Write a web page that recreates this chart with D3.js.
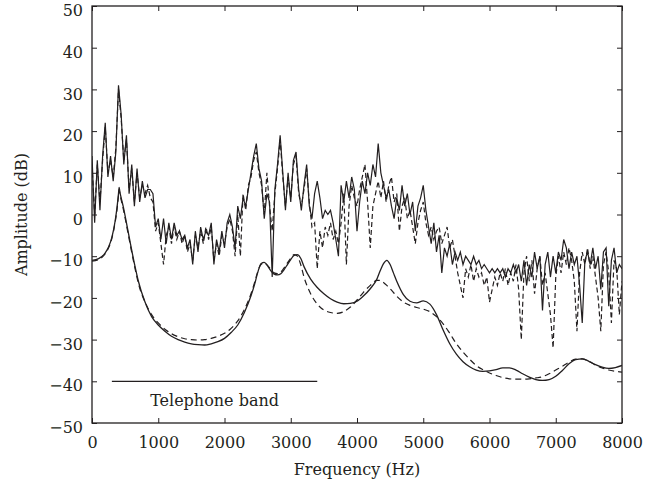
<!DOCTYPE html>
<html>
<head>
<meta charset="utf-8">
<script src="https://cdn.jsdelivr.net/npm/d3@7/dist/d3.min.js"></script>
<style>
  html, body { margin: 0; padding: 0; background: #fff; }
  svg text { font-family: "DejaVu Serif", "Liberation Serif", serif; fill: #231f20; }
</style>
</head>
<body>
<svg id="chart" width="659" height="490"></svg>
<script>
// ---- DATA ----
const FREQ_STEP = 40; // Hz between spectrum samples (0 .. 8000 Hz)
const spectrumSolid = [
  14, -2, 13, 1, 14, 22, 9, 14, 8, 15,
  31, 24, 12, 19, 5, 12, 2, 11, 3, 8,
  4, 6, 6, 5, -3, -1, -6, -1, -7, -2,
  -6, -2, -5, -4, -6, -5, -8, -6, -12, -4,
  -9, -3, -6, -4, -5, -2, -12, -6, -9, -4,
  -8, -2, 0, -3, -8, 2, -1, 4, 2, 6,
  10, 14, 17, 11, 8, -1, 5, 3, -15, 6,
  12, 19, 10, 1, 10, 3, 13, 15, 6, 1,
  7, 12, 2, -1, 5, 8, 4, -1, 1, 0,
  1, -2, -6, -10, 7, 3, 8, 4, 9, 6,
  -4, 3, 8, 5, 10, 7, 12, 9, 17, 10,
  7, 4, 6, 2, -1, 4, 1, 7, 2, 5,
  0, 3, -4, 2, 4, 7, 1, -3, -7, -2,
  -9, -5, -14, -8, -10, -7, -12, -9, -11, -9,
  -12, -10, -11, -12, -10, -12, -11, -13, -12, -13,
  -14, -13, -14, -13, -14, -13, -15, -13, -14, -12,
  -14, -12, -16, -11, -17, -12, -15, -9, -13, -10,
  -23, -12, -9, -15, -10, -14, -9, -11, -6, -8,
  -13, -9, -12, -10, -17, -26, -11, -9, -12, -8,
  -13, -10, -18, -9, -8, -22, -11, -8, -14, -12,
  -13
];
const spectrumDashed = [
  12, 0, 12, 3, 13, 21, 10, 13, 9, 16,
  30, 23, 13, 18, 6, 11, 3, 10, 4, 7,
  5, 7, 4, 3, -4, -2, -7, -12, -5, -3,
  -7, -3, -6, -4, -7, -5, -9, -7, -11, -5,
  -8, -4, -7, -3, -6, -3, -11, -7, -10, -5,
  -7, -3, -1, -4, -10, 0, -10, 5, 1, 7,
  9, 13, 15, 10, 7, 0, 10, 2, -4, 5,
  11, 18, 9, 2, 9, 4, 12, 14, 5, 2,
  6, 11, 3, -3, -2, -13, -4, -8, -3, -5,
  -2, -6, -4, -7, -2, 5, -12, 2, 7, 4,
  2, 6, 9, 12, 3, -8, 2, 5, 8, 4,
  8, 3, 7, 9, 3, 5, -4, 2, 4, -1,
  1, -3, -7, -2, 1, 3, -2, -5, -3, -6,
  -4, -3, -7, -5, -3, -8, -6, -10, -14, -17,
  -20, -13, -15, -12, -16, -13, -15, -14, -17, -15,
  -21, -18, -15, -17, -14, -16, -13, -17, -14, -16,
  -12, -18, -30, -14, -10, -16, -11, -19, -13, -10,
  -17, -14, -19, -24, -32, -15, -10, -14, -9, -12,
  -8, -11, -16, -28, -14, -9, -12, -8, -13, -10,
  -15, -20, -28, -12, -9, -14, -26, -11, -13, -24,
  -16
];
const envelopeFreq = [
  0, 100, 200, 250, 300, 350, 380, 400, 410, 420,
  440, 470, 520, 580, 650, 700, 800, 900, 1000, 1100,
  1200, 1300, 1400, 1500, 1600, 1700, 1800, 1900, 2000, 2100,
  2200, 2300, 2400, 2450, 2500, 2550, 2600, 2650, 2700, 2750,
  2800, 2850, 2900, 2950, 3000, 3050, 3100, 3150, 3200, 3300,
  3400, 3500, 3600, 3700, 3800, 3900, 4000, 4100, 4200, 4300,
  4350, 4400, 4450, 4500, 4550, 4600, 4700, 4800, 4900, 5000,
  5100, 5200, 5300, 5400, 5500, 5600, 5700, 5800, 5900, 6000,
  6100, 6200, 6300, 6400, 6500, 6600, 6700, 6800, 6900, 7000,
  7100, 7200, 7300, 7400, 7500, 7600, 7700, 7800, 7900, 8000
];
const envelopeSolid = [
  -11, -10.6, -9.2, -7.8, -5.5, -1.5, 2, 5, 6.5, 5.5,
  4, 2, -2, -7, -12.5, -16, -21, -24.5, -26.5, -28,
  -29.2, -30, -30.6, -31, -31.2, -31.3, -31, -30.5, -29.7, -28.3,
  -26.5, -23.5, -19.5, -17, -14, -11.8, -11.5, -12.3, -13.5, -14.3,
  -14.5, -14.2, -13.2, -12, -10.8, -9.8, -9.6, -10.5, -12.5, -15.5,
  -17.5, -19, -20.2, -21, -21.4, -21.3, -20.8, -19.5, -17.8, -15.5,
  -13.5, -11.8, -11, -12, -14, -16, -19.2, -20.8, -21.2, -20.7,
  -21.5, -24, -27.7, -31, -33.5, -35.3, -36.5, -37.3, -37.6, -37.5,
  -37.2, -36.8, -36.8, -37.3, -38.2, -39, -39.6, -39.8, -39.6, -38.8,
  -37.4, -35.8, -34.8, -34.6, -35.2, -36, -36.6, -36.9, -36.7, -36.2
];
const envelopeDashed = [
  -11.2, -10.8, -9.4, -8, -5.7, -1.8, 1.5, 4.5, 6, 5,
  3.5, 1.5, -2.5, -7.5, -13, -16.5, -21, -24, -26, -27.5,
  -28.6, -29.3, -29.8, -30, -30.1, -30, -29.7, -29.2, -28.5, -27.3,
  -25.5, -22.8, -19, -16.5, -13.8, -12, -11.6, -12.2, -13.2, -14,
  -14.2, -13.8, -12.8, -11.6, -10.5, -9.6, -10, -12, -15, -19,
  -21.5, -22.9, -23.5, -23.7, -23.3, -22.2, -20.5, -18.6, -17, -15.8,
  -15.8, -16.3, -17, -17.8, -18.7, -19.6, -21, -21.8, -22.3, -22.7,
  -23.3, -24.5, -26.2, -28.5, -31, -33, -34.7, -36.2, -37.2, -38,
  -38.6, -39.1, -39.4, -39.5, -39.5, -39.4, -39.2, -38.9, -38.2, -37.3,
  -36.4, -35.4, -34.7, -34.6, -35.2, -36.1, -36.8, -37.3, -37.6, -37.8
];
const xTicks = [0, 1000, 2000, 3000, 4000, 5000, 6000, 7000, 8000];
const yTicks = [-50, -40, -30, -20, -10, 0, 10, 20, 30, 40, 50];
const band = { from: 300, to: 3400, level: -40, label: "Telephone band" };
const xTitle = "Frequency (Hz)";
const yTitle = "Amplitude (dB)";

// ---- DRAW ----
const ink = "#231f20";
const FONT = '"DejaVu Serif", "Liberation Serif", serif';
const FS = 16;
const svg = d3.select("#chart");
const L = 92, R = 622, T = 6, B = 423;
const x = d3.scaleLinear().domain([0, 8000]).range([L, R]);
const y = d3.scaleLinear().domain([-50, 50]).range([B, T]);

const g = svg.append("g");
svg.append("clipPath").attr("id", "plot")
  .append("rect").attr("x", L).attr("y", T).attr("width", R - L).attr("height", B - T);

const spec = (arr) => arr.map((v, i) => [i * FREQ_STEP, v]);
const env = (arr) => arr.map((v, i) => [envelopeFreq[i], v]);

const lineLin = d3.line().x(d => x(d[0])).y(d => y(d[1]));
const lineSmooth = d3.line().x(d => x(d[0])).y(d => y(d[1])).curve(d3.curveMonotoneX);

const plot = g.append("g").attr("clip-path", "url(#plot)");
plot.append("path").datum(spec(spectrumDashed)).attr("d", lineLin)
  .attr("fill", "none").attr("stroke", ink).attr("stroke-width", 1.2)
  .attr("stroke-dasharray", "5,3");
plot.append("path").datum(spec(spectrumSolid)).attr("d", lineLin)
  .attr("fill", "none").attr("stroke", ink).attr("stroke-width", 1.2);
plot.append("path").datum(env(envelopeDashed)).attr("d", lineSmooth)
  .attr("fill", "none").attr("stroke", ink).attr("stroke-width", 1.2)
  .attr("stroke-dasharray", "6,4");
plot.append("path").datum(env(envelopeSolid)).attr("d", lineSmooth)
  .attr("fill", "none").attr("stroke", ink).attr("stroke-width", 1.3);

// telephone band
g.append("line")
  .attr("x1", x(band.from)).attr("x2", x(band.to))
  .attr("y1", y(band.level)).attr("y2", y(band.level))
  .attr("stroke", ink).attr("stroke-width", 1.2);
g.append("text")
  .attr("x", (x(band.from) + x(band.to)) / 2).attr("y", y(band.level) + 25)
  .attr("text-anchor", "middle").attr("font-size", FS).style("font-family", FONT).text(band.label);

// axes
const fmt = d3.format("d");
const axB = d3.axisBottom(x).tickValues(xTicks).tickSizeInner(-5).tickSizeOuter(0).tickPadding(14).tickFormat(fmt);
const axT = d3.axisTop(x).tickValues(xTicks).tickSizeInner(-5).tickSizeOuter(0).tickFormat("");
const axLf = d3.axisLeft(y).tickValues(yTicks).tickSizeInner(-5).tickSizeOuter(0).tickPadding(9).tickFormat(fmt);
const axRt = d3.axisRight(y).tickValues(yTicks).tickSizeInner(-5).tickSizeOuter(0).tickFormat("");

function style(sel) {
  sel.select(".domain").remove();
  sel.selectAll("line").attr("stroke", ink).attr("stroke-width", 1);
  sel.selectAll("text").attr("font-size", FS).attr("fill", ink).style("font-family", FONT);
}
g.append("g").attr("transform", `translate(0,${B})`).call(axB).call(style);
g.append("g").attr("transform", `translate(0,${T})`).call(axT).call(style);
const gl = g.append("g").attr("transform", `translate(${L},0)`).call(axLf).call(style);
gl.selectAll("text").attr("dy", "0.6em");
g.append("g").attr("transform", `translate(${R},0)`).call(axRt).call(style);

g.append("rect").attr("x", L).attr("y", T).attr("width", R - L).attr("height", B - T)
  .attr("fill", "none").attr("stroke", ink).attr("stroke-width", 1.3);

g.append("text").attr("x", (L + R) / 2).attr("y", 475)
  .attr("text-anchor", "middle").attr("font-size", FS).style("font-family", FONT).text(xTitle);
g.append("text").attr("transform", `translate(27,${(T + B) / 2}) rotate(-90)`)
  .attr("text-anchor", "middle").attr("font-size", FS).style("font-family", FONT).text(yTitle);
</script>
</body>
</html>
